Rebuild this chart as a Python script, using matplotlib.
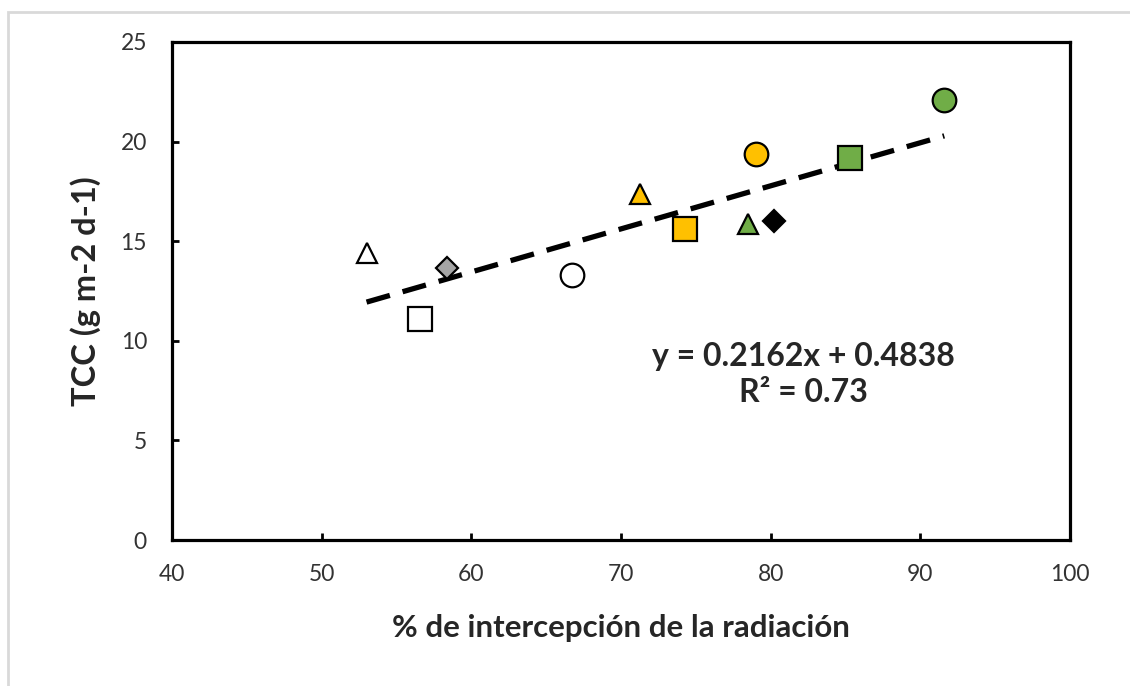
import matplotlib.pyplot as plt
from matplotlib.patches import Rectangle

plt.rcParams['font.family'] = ['Lato', 'DejaVu Sans']

# radiation interception (%) and TCC values, one marker each
x_vals = [53.0, 58.4, 56.6, 66.7, 71.3, 74.3, 79.0, 78.5, 80.2, 85.3, 91.6]
y_vals = [14.4, 13.65, 11.1, 13.3, 17.35, 15.6, 19.4, 15.85, 16.0, 19.2, 22.1]
markers = ['^', 'D', 's', 'o', '^', 's', 'o', '^', 'D', 's', 'o']
colors = ['white', '#A5A5A5', 'white', 'white', '#FFC000', '#FFC000', '#FFC000',
          '#70AD47', 'black', '#70AD47', '#70AD47']
sizes = [15, 11, 17, 17, 15, 17, 17, 15, 11, 17, 17]

slope = 0.2162
intercept = 0.4838
r2 = 0.73

fig = plt.figure(figsize=(11.3, 6.86), dpi=100)
ax = fig.add_axes([0.1522, 0.2128, 0.7947, 0.726])

# light frame around chart area
fig.patches.append(Rectangle((8 / 1130, -0.05), 1.2, (686 - 12) / 686 + 0.05,
                             transform=fig.transFigure, fill=False,
                             edgecolor='#D9D9D9', linewidth=2, zorder=0))

# linear trendline
x_fit = [min(x_vals), max(x_vals)]
y_fit = [slope * v + intercept for v in x_fit]
ax.plot(x_fit, y_fit, color='black', linewidth=3.8, linestyle=(0, (4.6, 2.5)),
        zorder=2)

for x, y, m, c, s in zip(x_vals, y_vals, markers, colors, sizes):
    ax.plot(x, y, marker=m, color=c, markersize=s, markeredgecolor='black',
            markeredgewidth=1.6, linestyle='none', zorder=3)

ax.set_xlim(40, 100)
ax.set_ylim(0, 25)
ax.set_xticks(range(40, 101, 10))
ax.set_yticks(range(0, 26, 5))
ax.tick_params(direction='in', length=5, width=2, labelsize=16.5,
               labelcolor='#333333')
ax.tick_params(axis='x', pad=17)
ax.tick_params(axis='y', pad=18)
for sp in ax.spines.values():
    sp.set_linewidth(2.3)

ax.set_xlabel('% de intercepción de la radiación', fontsize=22.5,
              fontweight='bold', color='#262626', labelpad=21)
ax.set_ylabel('TCC (g m-2 d-1)', fontsize=23.5, fontweight='bold',
              color='#262626', labelpad=14)

ax.text(82.2, 8.3, f'y = {slope}x + {intercept}\nR² = {r2}', ha='center',
        va='center', fontsize=23, fontweight='bold', color='#262626',
        linespacing=1.3)

fig.savefig('out.png', dpi=100)
